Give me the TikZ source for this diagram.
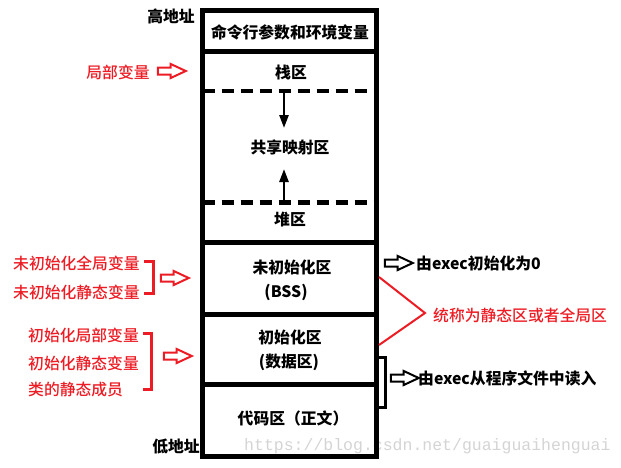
\documentclass[tikz,border=0pt]{standalone}
\usepackage{fontspec}
\setmainfont{Noto Sans CJK SC}
\newfontfamily\medfont{Noto Sans CJK SC}[UprightFont=* Medium]
\newfontfamily\wmfont{Liberation Mono}
\usetikzlibrary{shapes.arrows,arrows.meta}
\definecolor{pred}{HTML}{ED1C24}
\definecolor{wm}{HTML}{D4D4D4}
\tikzset{
  blk/.style={font=\fontsize{15.8}{18}\selectfont\bfseries, inner sep=0pt, text=black},
  rtxt/.style={font=\medfont\fontsize{15.8}{18}\selectfont, inner sep=0pt, text=pred},
  sep/.style={line width=5pt},
  dsep/.style={line width=4.5pt, dash pattern=on 12pt off 7pt},
  harrow/.style={single arrow, draw=#1, fill=white, line width=2pt,
    minimum height=28pt, minimum width=12pt, inner sep=2.5pt,
    single arrow tip angle=50, single arrow head extend=3.5pt},
  brk/.style={line width=3pt, line cap=rect},
  vline/.style={line width=2.5pt, -{Triangle[width=9pt,length=13pt]}},
}
\begin{document}
\begin{tikzpicture}[x=1pt,y=-1pt]
\useasboundingbox (0,0) rectangle (621,467);
% watermark
\node[font=\wmfont\fontsize{16.5}{18}\selectfont, text=wm, inner sep=0pt, anchor=west] (wmk) at (244,446) {https://blog.csdn.net/guaiguaihenguai};
% main box
\draw[sep] (202.5,10.5) rectangle (376.5,456);
\coordinate (L1) at (202.5,51); \coordinate (R1) at (376.5,51);
\coordinate (L2) at (202.5,91); \coordinate (R2) at (376.5,91);
\coordinate (L3) at (202.5,202.5); \coordinate (R3) at (376.5,202.5);
\coordinate (L4) at (202.5,242.5); \coordinate (R4) at (376.5,242.5);
\coordinate (L5) at (202.5,314.5); \coordinate (R5) at (376.5,314.5);
\coordinate (L6) at (202.5,384.5); \coordinate (R6) at (376.5,384.5);
\draw[sep] (L1) -- (R1);
\draw[dsep] (L2) -- (R2);
\draw[dsep] (L3) -- (R3);
\draw[sep] (L4) -- (R4);
\draw[sep] (L5) -- (R5);
\draw[sep] (L6) -- (R6);
% box texts
\node[blk] (hi) at (171,16) {高地址};
\node[blk] (lo) at (176,447) {低地址};
\node[blk] (env) at (290,32) {命令行参数和环境变量};
\node[blk] (stack) at (291,72) {栈区};
\node[blk] (mmap) at (290,147) {共享映射区};
\node[blk] (heap) at (290,220) {堆区};
\node[blk] (bss) at (292,267) {未初始化区};
\node[blk] (bss2) at (286,292) {(BSS)};
\node[blk] (data) at (290,337) {初始化区};
\node[blk] (data2) at (289,362) {(数据区)};
\node[blk] (text) at (293,418) {代码区（正文）};
% growth arrows
\coordinate (ds) at (284,92); \coordinate (de) at (284,128);
\coordinate (us) at (284,202); \coordinate (ue) at (284,169);
\draw[vline] (ds) -- (de);
\draw[vline] (us) -- (ue);
% left red texts
\node[rtxt] (loc) at (118,72) {局部变量};
\node[harrow=pred] (a1) at (168,71) {};
\node[rtxt, anchor=west] (u1) at (13,263) {未初始化全局变量};
\node[rtxt, anchor=west] (u2) at (13,292) {未初始化静态变量};
\draw[brk, pred] (145,261) -- (153,261) -- (153,293) -- (145,293);
\node[harrow=pred] (a2) at (171,278) {};
\node[rtxt, anchor=west] (i1) at (28,335) {初始化局部变量};
\node[rtxt, anchor=west] (i2) at (28,363) {初始化静态变量};
\node[rtxt, anchor=west] (i3) at (28,390) {类的静态成员};
\draw[brk, pred] (144,333) -- (151,333) -- (151,389) -- (144,389);
\node[harrow=pred] (a3) at (174,356) {};
% right side
\node[harrow=black] (a4) at (395,263) {};
\node[blk, anchor=west] (r1) at (416,263) {由exec初始化为0};
\coordinate (p1) at (379,277); \coordinate (p2) at (425,313); \coordinate (p3) at (379,345);
\draw[pred, line width=2pt] (p1) -- (p2) -- (p3);
\node[rtxt, anchor=west] (r2) at (433,315) {统称为静态区或者全局区};
\draw[brk, black, line cap=butt] (378,357.5) -- (385,357.5) -- (385,407.5) -- (378,407.5);
\node[harrow=black] (a5) at (401,378) {};
\node[blk, anchor=west] (r3) at (418,378) {由exec从程序文件中读入};
\end{tikzpicture}
\end{document}
